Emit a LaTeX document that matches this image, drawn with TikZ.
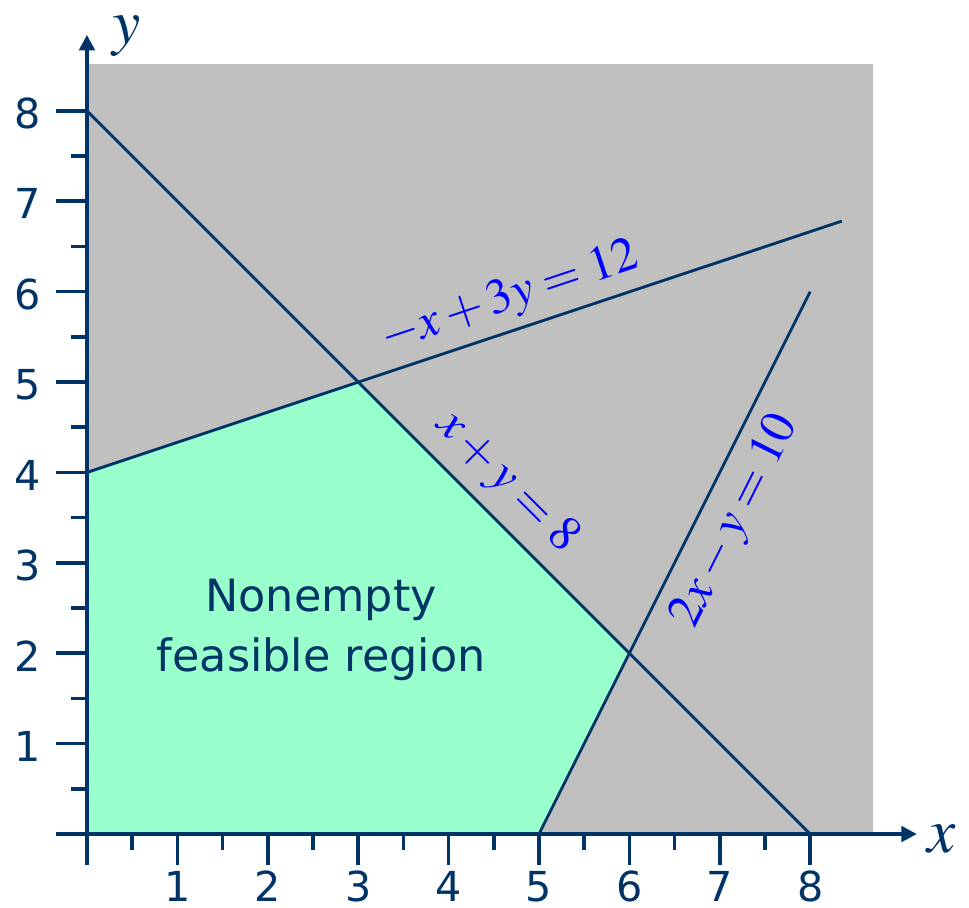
\documentclass[tikz,border=0pt]{standalone}
\usepackage{mathptmx}
\usepackage[no-math]{fontspec}
\setmainfont{DejaVu Sans}
\usepackage{xcolor}
\usetikzlibrary{arrows.meta}
\definecolor{navy}{RGB}{0,51,102}
\definecolor{mint}{RGB}{153,255,204}
\definecolor{greyfill}{RGB}{192,192,192}

\begin{document}
\begin{tikzpicture}[
   axis/.style={navy,line width=1.1pt,-{Triangle[length=1.7mm,width=1.7mm]}},
   tick/.style={navy,line width=1.1pt},
   bound/.style={navy,line width=0.9pt},
   num/.style={text=navy,font=\fontsize{13}{15}\selectfont,inner sep=0pt},
   eqn/.style={text=blue,font=\fontsize{15.5}{18}\selectfont,inner sep=0pt},
   var/.style={text=navy,font=\fontsize{20}{22}\selectfont,inner sep=0pt}
  ]
  \useasboundingbox (-0.962,-0.808) rectangle (9.757,9.226);

  % corner points
  \coordinate (O) at (0,0);
  \coordinate (A) at (5,0);
  \coordinate (B) at (6,2);
  \coordinate (C) at (3,5);
  \coordinate (D) at (0,4);
  \coordinate (P8y) at (0,8);
  \coordinate (P8x) at (8,0);
  \coordinate (Lend) at (8.35,6.78);
  \coordinate (Rend) at (8,6);

  % regions
  \fill[greyfill] (O) rectangle (8.69,8.52);
  \fill[mint] (O) -- (A) -- (B) -- (C) -- (D) -- cycle;

  % constraint lines
  \draw[bound] (P8y) -- (P8x);
  \draw[bound] (D) -- (Lend);
  \draw[bound] (A) -- (Rend);

  % axes
  \coordinate (xs) at (-0.34,0);
  \coordinate (xe) at (9.18,0);
  \coordinate (ys) at (0,-0.34);
  \coordinate (ye) at (0,8.84);
  \draw[axis] (xs) -- (xe);
  \draw[axis] (ys) -- (ye);
  \node[var] (xlab) at (9.46,-0.06) {$x$};
  \node[var] (ylab) at (0.44,8.83) {$y$};

  % ticks and numbers
  \foreach \i in {1,...,8}{
    \draw[tick] (\i,0) -- (\i,-0.34);
    \draw[tick] (0,\i) -- (-0.34,\i);
    \node[num] (xn\i) at (\i,-0.58) {\i};
    \node[num] (yn\i) at (-0.66,\i-0.03) {\i};
  }
  \foreach \h in {0.5,1.5,...,7.5}{
    \draw[tick] (\h,0) -- (\h,-0.18);
    \draw[tick] (0,\h) -- (-0.18,\h);
  }

  % labels
  \node[eqn,rotate=18.43] (e1) at (4.68,5.93) {$-x+3y=12$};
  \node[eqn,rotate=-45] (e2) at (4.65,3.89) {$x+y=8$};
  \node[eqn,rotate=63.43] (e3) at (7.18,3.46) {$2x-y=10$};
  \node[text=navy,align=center,font=\fontsize{14}{18.8}\selectfont] (reg)
        at (2.59,2.26) {Nonempty\\feasible region};
\end{tikzpicture}
\end{document}
